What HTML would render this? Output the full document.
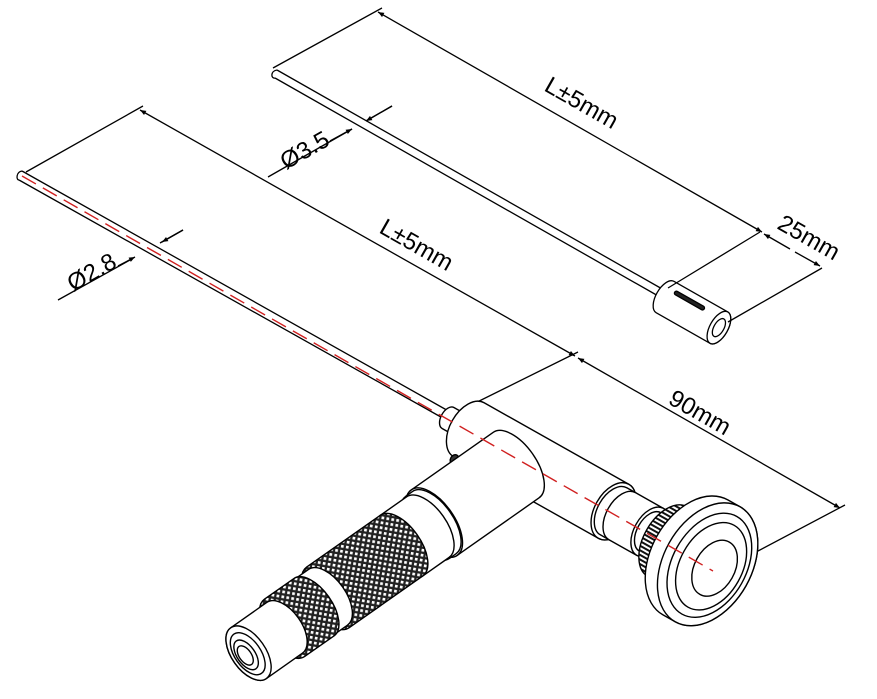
<!DOCTYPE html>
<html><head><meta charset="utf-8"><style>html,body{margin:0;padding:0;background:#fff}svg{display:block}</style></head>
<body>
<svg width="877" height="699" viewBox="0 0 877 699" xmlns="http://www.w3.org/2000/svg">
<defs>
<marker id="ar" viewBox="0 0 10 10" refX="10" refY="5" markerWidth="10" markerHeight="6" orient="auto-start-reverse" markerUnits="userSpaceOnUse"><path d="M0,1 L10,5 L0,9z" fill="#000"/></marker>
<pattern id="kn" width="5" height="5" patternUnits="userSpaceOnUse" patternTransform="rotate(45)">
<rect width="5" height="5" fill="#fff"/><rect width="5" height="2.3" fill="#222"/><rect width="2.3" height="5" fill="#222"/></pattern>
<pattern id="st" width="4" height="4" patternUnits="userSpaceOnUse"><rect width="4" height="4" fill="#fff"/><rect width="4" height="2" fill="#111"/></pattern>
</defs>
<g fill="none" stroke="#000" stroke-width="1.3">
<!-- top rod -->
<path d="M277,70 L664,290 M275,78 L660,297" />
<path d="M277,70 C270,71 271,79 275,78" />
<g transform="translate(665,297) rotate(29.6)" fill="#fff">
<path d="M0,-18 L62,-18 A9,18 0 0 1 62,18 L0,18 A9,18 0 0 1 0,-18Z"/>
<ellipse cx="62" cy="0" rx="9" ry="18"/>
<ellipse cx="62" cy="0" rx="5" ry="10"/>
<rect x="6" y="-11" width="34" height="4" rx="2" fill="#222"/>
</g>
<!-- top dims -->
<path d="M273,68 L382,8 M760,232 L668,288 M822,268 L728,322"/>
<path d="M378,12 L762,232" marker-start="url(#ar)" marker-end="url(#ar)"/>
<path d="M764,234 L790,249" marker-start="url(#ar)"/>
<path d="M795,252 L820,266" marker-end="url(#ar)"/>
<path d="M268,177 L352,129" /><path d="M366,121 L392,106"/>
<path d="M330,141 L352,129" marker-end="url(#ar)"/><path d="M392,106 L366,121" marker-end="url(#ar)"/>
<!-- main rod -->
<path d="M22,171 L452,413 M19,180 L448,421"/>
<path d="M22,171 C16,172 16,180 19,180"/>
<!-- main dims -->
<path d="M26,172 L143,106 M455,413 L578,352 M722,570 L845,505"/>
<path d="M140,110 L575,356" marker-start="url(#ar)" marker-end="url(#ar)"/>
<path d="M578,358 L840,508" marker-start="url(#ar)" marker-end="url(#ar)"/>
<path d="M58,300 L130,260 M160,243 L183,230"/>
<path d="M118,266 L135,257" marker-end="url(#ar)"/><path d="M183,230 L162,242" marker-end="url(#ar)"/>
</g>
<!-- body -->
<g stroke="#000" stroke-width="1.4" fill="#fff" transform="translate(448,418) rotate(29.4)">
<path d="M0,-12 L24,-12 A7,12 0 0 1 24,12 L0,12 A7,12 0 0 1 0,-12Z"/>
<path d="M24,-31 L190,-31 A19,31 0 0 1 190,31 L24,31 A19,31 0 0 1 24,-31Z"/>
<ellipse cx="190" cy="0" rx="19" ry="31"/>
<path d="M190,-27 L200,-27 A16,27 0 0 1 200,27 L190,27 A16,27 0 0 1 190,-27Z"/>
<path d="M200,-27 L232,-27 A16,27 0 0 1 232,27 L200,27 A16,27 0 0 1 200,-27Z"/>
<ellipse cx="232" cy="0" rx="16" ry="27"/>
<path d="M232,-22 L252,-22 A13,22 0 0 1 252,22 L232,22 A13,22 0 0 1 232,-22Z"/>
<path d="M252,-40 L282,-40 A24,40 0 0 1 282,40 L252,40 A24,40 0 0 1 252,-40Z" fill="url(#st)"/>
<ellipse cx="282" cy="0" rx="24" ry="40"/>
<path d="M284,-66 L298,-66 A44,66 0 0 1 298,66 L284,66 A44,66 0 0 1 284,-66Z"/>
<ellipse cx="298" cy="0" rx="44" ry="66"/>
<ellipse cx="300" cy="0" rx="37" ry="56" fill="none"/>
<ellipse cx="302" cy="0" rx="31" ry="47" fill="none"/>
<ellipse cx="306" cy="0" rx="20" ry="30" fill="none"/>
<ellipse cx="26" cy="33" rx="4" ry="5" fill="#333"/>
</g>
<!-- handle -->
<g stroke="#000" stroke-width="1.4" fill="#fff" transform="translate(512,468) rotate(144.9)">
<path d="M-5,-40 L95,-40 A20,40 0 0 1 95,40 L-5,40 A20,40 0 0 1 -5,-40Z"/>
<ellipse cx="95" cy="0" rx="20" ry="40"/>
<path d="M95,-38 L103,-38 A19,38 0 0 1 103,38 L95,38 A19,38 0 0 1 95,-38Z"/>
<path d="M103,-37 L135,-37 A19,37 0 0 1 135,37 L103,37 A19,37 0 0 1 103,-37Z"/>
<path d="M135,-37 L225,-37 A19,37 0 0 1 225,37 L135,37 A19,37 0 0 1 135,-37Z" fill="url(#kn)"/>
<path d="M225,-34 L242,-34 A18,34 0 0 1 242,34 L225,34 A18,34 0 0 1 225,-34Z"/>
<path d="M242,-35 L278,-35 A18,35 0 0 1 278,35 L242,35 A18,35 0 0 1 242,-35Z" fill="url(#kn)"/>
<path d="M278,-31 L322,-31 A17,31 0 0 1 322,31 L278,31 A17,31 0 0 1 278,-31Z"/>
<ellipse cx="322" cy="0" rx="17" ry="31"/>
<ellipse cx="323" cy="0" rx="13" ry="24" fill="none"/>
<ellipse cx="325" cy="0" rx="9" ry="17" fill="none"/>
<ellipse cx="326" cy="0" rx="6" ry="11" fill="none"/>
</g>
<!-- center line -->
<path d="M22,176 L713,571" stroke="#d02020" stroke-width="1.4" stroke-dasharray="16,8" fill="none"/>
<g font-family="Liberation Sans, sans-serif" font-size="24" fill="#000">
<text transform="translate(543,90) rotate(29.6)">L±5mm</text>
<text transform="translate(378,232) rotate(29.6)">L±5mm</text>
<text transform="translate(667,403) rotate(29.6)">90mm</text>
<text transform="translate(776,228) rotate(29.6)">25mm</text>
<text transform="translate(286,170) rotate(-29.6)">Ø3.5</text>
<text transform="translate(73,292) rotate(-29.6)">Ø2.8</text>
</g>
</svg>
</body></html>
